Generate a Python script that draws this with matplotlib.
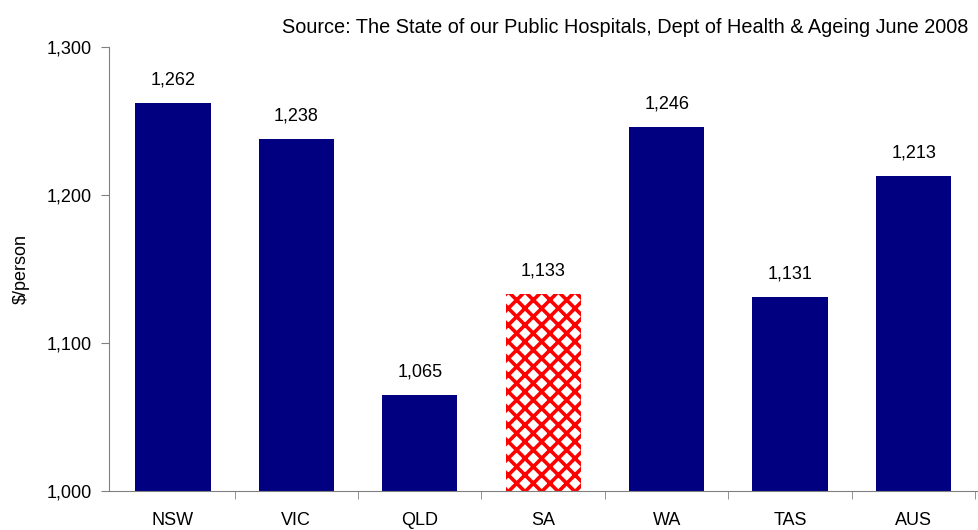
import matplotlib.pyplot as plt
import numpy as np

# spending per person by state
states = ["NSW", "VIC", "QLD", "SA", "WA", "TAS", "AUS"]
values = [1262, 1238, 1065, 1133, 1246, 1131, 1213]
highlight = "SA"

plt.rcParams['font.family'] = ['Liberation Sans', 'DejaVu Sans']
plt.rcParams['hatch.linewidth'] = 2.6
plt.rcParams['hatch.color'] = 'red'

fig = plt.figure(figsize=(9.79, 5.30), dpi=100)
ax = fig.add_axes([0.111, 0.073, 0.889, 0.838])

x = np.arange(len(states))
for i, s in enumerate(states):
    if s == highlight:
        ax.bar(x[i], values[i] - 1000, bottom=1000, width=0.61,
               facecolor='white', edgecolor='red', hatch='xx', linewidth=0)
    else:
        ax.bar(x[i], values[i] - 1000, bottom=1000, width=0.61,
               color='#000080', linewidth=0)
    ax.text(x[i], values[i] + 10, "{:,}".format(values[i]),
            ha='center', va='bottom', fontsize=13)

ax.set_ylim(1000, 1300)
ax.set_xlim(-0.52, len(states) - 0.47)
ax.set_yticks([1000, 1100, 1200, 1300])
ax.set_yticklabels(["1,000", "1,100", "1,200", "1,300"], fontsize=13)
ax.set_xticks(x)
ax.set_xticklabels(states, fontsize=13)
ax.tick_params(axis='x', length=0, pad=15)
ax.set_xticks(np.arange(len(states)) + 0.5, minor=True)
ax.tick_params(axis='x', which='minor', length=6, color='#808080')
ax.tick_params(axis='y', length=6, color='#808080', pad=6)

for side in ['top', 'right']:
    ax.spines[side].set_visible(False)
for side in ['left', 'bottom']:
    ax.spines[side].set_color('#808080')

ax.set_ylabel("$/person", fontsize=13, labelpad=12)
fig.text(0.989, 0.948, "Source: The State of our Public Hospitals, Dept of Health & Ageing June 2008",
         ha='right', va='center', fontsize=14.3)

fig.savefig("out.png", dpi=100)
